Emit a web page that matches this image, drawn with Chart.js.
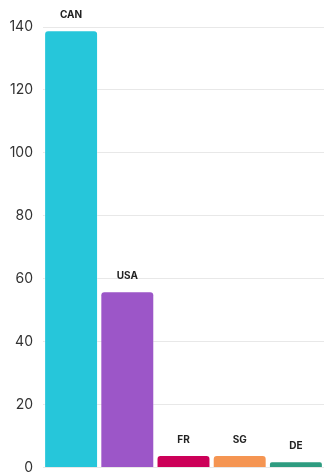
<!DOCTYPE html>
<html>
<head>
<meta charset="utf-8">
<script src="https://cdn.jsdelivr.net/npm/chart.js@4.4.0/dist/chart.umd.min.js"></script>
<style>
  html, body { margin: 0; padding: 0; overflow: hidden; background: #fff; }
  #wrap { position: absolute; left: 0; top: 0; width: 324px; height: 486px; }
</style>
</head>
<body>
<div id="wrap"><canvas id="countries-chart"></canvas></div>
<script>
// chart data
const countries = ['CAN', 'USA', 'FR', 'SG', 'DE'];
const counts = [139, 56, 4, 4, 2];
const barColors = ['#26c6da', '#9c56c8', '#cc0058', '#f59552', '#2e9c80'];
const yTicks = [0, 20, 40, 60, 80, 100, 120, 140];

// draws the country name above each bar
const barNames = {
  id: 'barNames',
  afterDatasetsDraw(chart) {
    const ctx = chart.ctx;
    const meta = chart.getDatasetMeta(0);
    ctx.save();
    ctx.font = 'bold 10px Inter';
    ctx.fillStyle = '#222';
    ctx.textAlign = 'center';
    ctx.textBaseline = 'middle';
    meta.data.forEach((bar, i) => {
      ctx.fillText(countries[i], bar.x, bar.y - 15);
    });
    ctx.restore();
  }
};

new Chart(document.getElementById('countries-chart'), {
  type: 'bar',
  data: {
    labels: countries,
    datasets: [{
      data: counts,
      backgroundColor: barColors,
      borderColor: 'rgba(255,255,255,0.35)',
      borderWidth: 1,
      borderRadius: 4,
      barPercentage: 0.96,
      categoryPercentage: 1
    }]
  },
  options: {
    responsive: true,
    maintainAspectRatio: false,
    animation: false,
    layout: { padding: { top: 27, left: 0, right: 0, bottom: 0 } },
    plugins: {
      legend: { display: false },
      tooltip: { enabled: false }
    },
    scales: {
      x: { display: false },
      y: {
        min: 0,
        max: 140,
        afterBuildTicks: scale => {
          scale.ticks = yTicks.map(v => ({ value: v }));
        },
        afterFit: scale => { scale.width = 43; },
        border: { display: false },
        grid: { color: '#e8e8e8', drawTicks: false },
        ticks: {
          padding: 10,
          color: '#333',
          font: { family: 'Inter', size: 14 }
        }
      }
    }
  },
  plugins: [barNames]
});
</script>
</body>
</html>
